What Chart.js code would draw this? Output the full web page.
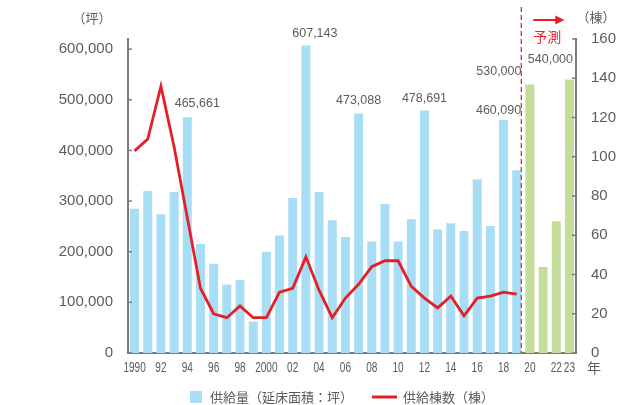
<!DOCTYPE html>
<html>
<head>
<meta charset="utf-8">
<script src="https://cdn.jsdelivr.net/npm/chart.js@4.4.1/dist/chart.umd.min.js"></script>
<style>
  html, body { margin: 0; padding: 0; background: #fff; }
  #chart { display: block; }
</style>
</head>
<body>
<canvas id="chart" width="619" height="405"></canvas>
<script>
// 年（1990〜2023）, 2020以降は予測
const years = ['1990','1991','1992','1993','1994','1995','1996','1997','1998','1999',
  '2000','2001','2002','2003','2004','2005','2006','2007','2008','2009',
  '2010','2011','2012','2013','2014','2015','2016','2017','2018','2019',
  '2020','2021','2022','2023']
const tickLabels = ['1990','','92','','94','','96','','98','',
  '2000','','02','','04','','06','','08','',
  '10','','12','','14','','16','','18','',
  '20','','22','23']
const forecastFrom = '2020'

// 供給量（延床面積：坪）
const floorArea = [285000, 320000, 274000, 318000, 465661, 215000, 176000, 135000, 144000, 62000,
  200000, 232000, 306000, 607143, 318000, 262000, 229000, 473088, 220000, 294000,
  220000, 264000, 478691, 244000, 256000, 241000, 343000, 251000, 460090, 361000,
  530000, 170000, 260000, 540000]

// 供給棟数（棟）
const buildings = [103, 109, 136, 105, 69, 33, 20, 18, 24, 18,
  18, 31, 33, 49, 32, 18, 28, 35, 44, 47,
  47, 34, 28, 23, 29, 19, 28, 29, 31, 30,
  null, null, null, null]

// 数値ラベルを付ける年
const labelledYears = ['1994','2003','2007','2012','2018','2020','2023']

const leftTicks = [0, 100000, 200000, 300000, 400000, 500000, 600000]

const blue = '#a8ddf6'
const green = '#c4dd9a'
const red = '#e61e25'
const grey = '#5c5c5c'
const axisGrey = '#7a7a7a'

const barColors = years.map(y => y >= forecastFrom ? green : blue)

// small offsets for the value labels, so they sit where the original put them
const labelOffsets = {
  '1994': [10, -14], '2003': [9, -12], '2007': [0, -13], '2012': [0, -12],
  '2018': [-5, -9], '2020': [-31, -13], '2023': [-19, -20]
}

function line(ctx, x1, y1, x2, y2) {
  ctx.beginPath()
  ctx.moveTo(x1, y1)
  ctx.lineTo(x2, y2)
  ctx.stroke()
}

const extras = {
  id: 'extras',
  afterDatasetsDraw(chart) {
    const {ctx, chartArea: a, scales: {x, y, y2}} = chart
    ctx.save()

    // inward tick marks
    ctx.strokeStyle = axisGrey
    ctx.lineWidth = 1.5
    y.ticks.forEach(t => {
      const py = y.getPixelForValue(t.value)
      line(ctx, a.left, py, a.left + 4, py)
    })
    y2.ticks.forEach(t => {
      const py = y2.getPixelForValue(t.value)
      line(ctx, a.right - 4, py, a.right, py)
    })

    // condensed year labels under the bars
    ctx.fillStyle = grey
    ctx.font = '14px "Liberation Sans", Arial, sans-serif'
    ctx.textAlign = 'center'
    ctx.textBaseline = 'middle'
    tickLabels.forEach((t, k) => {
      if (!t) return
      ctx.save()
      ctx.translate(x.getPixelForValue(k), a.bottom + 15)
      ctx.scale(0.72, 1)
      ctx.fillText(t, 0, 0)
      ctx.restore()
    })

    // forecast divider
    const i = years.indexOf(forecastFrom)
    const dx = (x.getPixelForValue(i - 1) + x.getPixelForValue(i)) / 2 - 2
    ctx.strokeStyle = red
    ctx.lineWidth = 1.2
    ctx.setLineDash([5, 3])
    line(ctx, dx, 7, dx, a.bottom)
    ctx.setLineDash([])

    // arrow + 予測
    ctx.lineWidth = 2
    line(ctx, dx + 12, 20, dx + 36, 20)
    ctx.fillStyle = red
    ctx.beginPath()
    ctx.moveTo(dx + 43, 20)
    ctx.lineTo(dx + 34, 15.5)
    ctx.lineTo(dx + 34, 24.5)
    ctx.closePath()
    ctx.fill()
    ctx.font = '14px "Noto Sans CJK JP"'
    ctx.fillText('予測', dx + 26, 37)

    // units
    ctx.fillStyle = grey
    ctx.font = '13px "Noto Sans CJK JP"'
    ctx.fillText('（坪）', 92, 18)
    ctx.fillText('（棟）', 596, 17)
    ctx.font = '14px "Noto Sans CJK JP"'
    ctx.fillText('年', 594, 368)

    // value labels
    ctx.font = '12.5px "Liberation Sans", Arial, sans-serif'
    const bars = chart.getDatasetMeta(0).data
    labelledYears.forEach(yr => {
      const k = years.indexOf(yr)
      const el = bars[k]
      const [ox, oy] = labelOffsets[yr] || [0, -12]
      ctx.fillText(floorArea[k].toLocaleString('en-US'), el.x + ox, el.y + oy)
    })

    // legend
    ctx.fillStyle = blue
    ctx.fillRect(190, 391, 12, 12)
    ctx.fillStyle = grey
    ctx.textAlign = 'left'
    ctx.font = '13px "Noto Sans CJK JP"'
    ctx.fillText(chart.data.datasets[0].label, 210, 397)
    ctx.strokeStyle = red
    ctx.lineWidth = 3
    line(ctx, 372, 397, 397, 397)
    ctx.fillText(chart.data.datasets[1].label, 403, 397)

    ctx.restore()
  }
}

new Chart(document.getElementById('chart'), {
  type: 'bar',
  data: {
    labels: years,
    datasets: [{
      label: '供給量（延床面積：坪）',
      data: floorArea,
      backgroundColor: barColors,
      categoryPercentage: 1,
      barPercentage: 0.68,
      yAxisID: 'y',
      order: 2
    }, {
      type: 'line',
      label: '供給棟数（棟）',
      data: buildings,
      borderColor: red,
      borderWidth: 2.8,
      pointRadius: 0,
      tension: 0,
      yAxisID: 'y2',
      order: 1
    }]
  },
  options: {
    responsive: false,
    animation: false,
    layout: { padding: { top: 39, left: 0, right: 0, bottom: 0 } },
    plugins: {
      legend: { display: false },
      tooltip: { enabled: false }
    },
    scales: {
      x: {
        grid: { display: false },
        border: { display: true, color: axisGrey, width: 2 },
        ticks: { display: false },
        afterFit: s => { s.height = 52 }
      },
      y: {
        position: 'left',
        min: 0,
        max: 620000,
        grid: { display: false },
        border: { display: true, color: axisGrey, width: 2 },
        afterBuildTicks: s => { s.ticks = leftTicks.map(v => ({ value: v })) },
        ticks: {
          padding: 7,
          color: grey,
          font: { family: '"Liberation Sans", Arial, sans-serif', size: 15 },
          callback: v => v.toLocaleString('en-US')
        },
        afterFit: s => { s.width = 128 }
      },
      y2: {
        position: 'right',
        min: 0,
        max: 160,
        grid: { display: false },
        border: { display: true, color: axisGrey, width: 2 },
        ticks: {
          stepSize: 20,
          padding: 7,
          color: grey,
          font: { family: '"Liberation Sans", Arial, sans-serif', size: 15 }
        },
        afterFit: s => { s.width = 43 }
      }
    }
  },
  plugins: [extras]
})
</script>
</body>
</html>
